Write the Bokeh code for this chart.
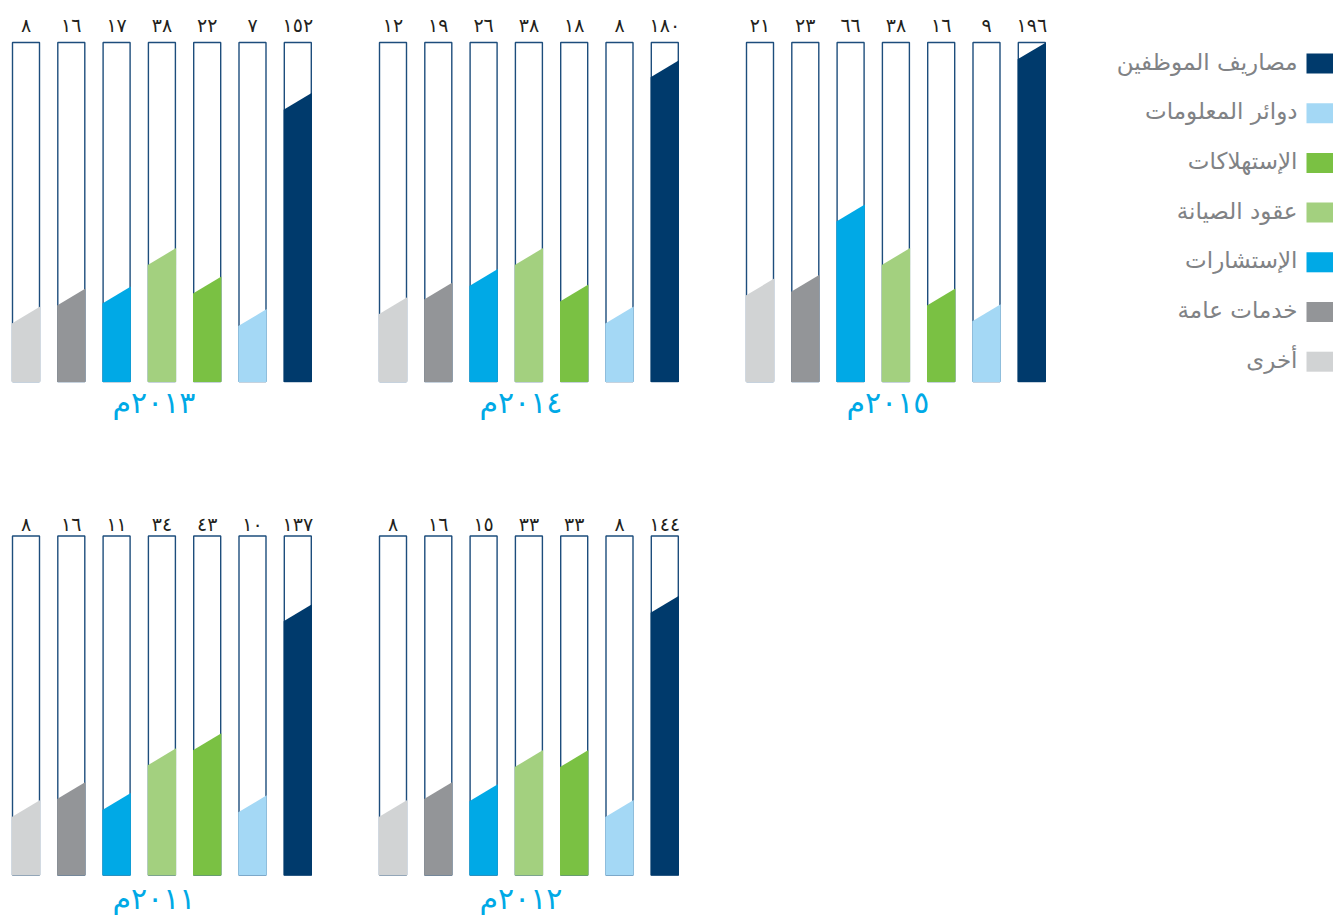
from bokeh.plotting import figure
from bokeh.models import Range1d
from bokeh.embed import file_html
from bokeh.resources import INLINE
from bokeh.core.properties import value
import numpy as np

# ---------------- data ----------------
categories = ["أخرى", "خدمات عامة", "الإستشارات", "عقود الصيانة",
              "الإستهلاكات", "دوائر المعلومات", "مصاريف الموظفين"]
colors = ["#d1d3d4", "#939598", "#00a9e6", "#a3d07f",
          "#7ac143", "#a4d8f5", "#003a6c"]
years = ["2013", "2014", "2015", "2011", "2012"]
v2015 = [21, 23, 66, 38, 16, 9, 196]
v2014 = [12, 19, 26, 38, 18, 8, 180]
v2013 = [8, 16, 17, 38, 22, 7, 152]
v2012 = [8, 16, 15, 33, 33, 8, 144]
v2011 = [8, 16, 11, 34, 43, 10, 137]
values = {"2015": v2015, "2014": v2014, "2013": v2013, "2012": v2012, "2011": v2011}

# ---------------- layout ----------------
W, H = 1333, 915
COL_X = [12.0, 379.0, 746.0]          # left of first bar in each column
ROW_BOTTOM = [381.0, 874.5]           # bar bottoms per row
BAR_H = 339.0
BAR_W = 27.0
STRIDE = 45.3
SLANT = 17.0
A, B, POW = 40.0, 5.55, 0.75          # fill height scale: A + B * v**POW (px)
LABEL_GAP = [18.0, 12.0]
YEAR_Y = [402.0, 898.0]

AR = str.maketrans("0123456789", "٠١٢٣٤٥٦٧٨٩")

p = figure(width=W, height=H, x_range=Range1d(0, W), y_range=Range1d(H, 0),
           output_backend="svg", toolbar_location=None, min_border=0,
           x_axis_location=None, y_axis_location=None)
p.grid.visible = False
p.outline_line_color = None
p.background_fill_color = "white"
p.border_fill_color = "white"

ol_l, ol_r, ol_t, ol_b = [], [], [], []
fx, fy, fc = [], [], []
tx, ty, tt = [], [], []
yx, yy, yt = [], [], []

for idx, yr in enumerate(years):
    row = 0 if idx < 3 else 1
    col = idx if idx < 3 else idx - 3
    x0 = COL_X[col]
    yb = ROW_BOTTOM[row]
    vals = values[yr]
    for i, v in enumerate(vals):
        left = x0 + i * STRIDE
        right = left + BAR_W
        top = yb - BAR_H
        ol_l.append(left); ol_r.append(right); ol_t.append(top); ol_b.append(yb)
        h = A + B * v ** POW
        yl = max(yb - h + SLANT / 2, top)
        yr_ = max(yb - h - SLANT / 2, top)
        fx.append([left - 0.7, right + 0.7, right + 0.7, left - 0.7])
        fy.append([yb + 0.5, yb + 0.5, yr_, yl])
        fc.append(colors[i])
        tx.append(left + BAR_W / 2)
        ty.append(top - LABEL_GAP[row])
        tt.append(str(v).translate(AR))
    yx.append(x0 + 3 * STRIDE + BAR_W / 2 - 8)
    yy.append(YEAR_Y[row])
    yt.append((yr + "م").translate(AR))

p.quad(left=ol_l, right=ol_r, top=ol_t, bottom=ol_b, fill_color="white",
       line_color="#1d4d7c", line_width=1.4)
p.patches(xs=fx, ys=fy, fill_color=fc, line_color=None)

p.text(x=tx, y=ty, text=tt, text_align="center", text_baseline="middle",
       text_font=value("DejaVu Sans"), text_font_size="19px", text_color="#231f20")
p.text(x=yx, y=yy, text=yt, text_align="center", text_baseline="middle",
       text_font=value("DejaVu Sans"), text_font_size="30px", text_color="#00a9e6")

# ---------------- legend ----------------
LEG_RIGHT = 1333.0
LEG_Y0 = 63.0
LEG_STEP = 49.7
order = list(range(len(categories)))[::-1]
lx_l, lx_r, ly_t, ly_b, lc = [], [], [], [], []
ltx, lty, ltt = [], [], []
for j, ci in enumerate(order):
    cy = LEG_Y0 + j * LEG_STEP
    lx_l.append(LEG_RIGHT - 27); lx_r.append(LEG_RIGHT)
    ly_t.append(cy - 10); ly_b.append(cy + 10)
    lc.append(colors[ci])
    ltx.append(LEG_RIGHT - 27 - 9); lty.append(cy - 2); ltt.append(categories[ci])
p.quad(left=lx_l, right=lx_r, top=ly_t, bottom=ly_b, fill_color=lc, line_color=None)
p.text(x=ltx, y=lty, text=ltt, text_align="right", text_baseline="middle",
       text_font=value("DejaVu Sans"), text_font_size="23px", text_color="#808285")

open("out.html", "w").write(file_html(p, INLINE))
